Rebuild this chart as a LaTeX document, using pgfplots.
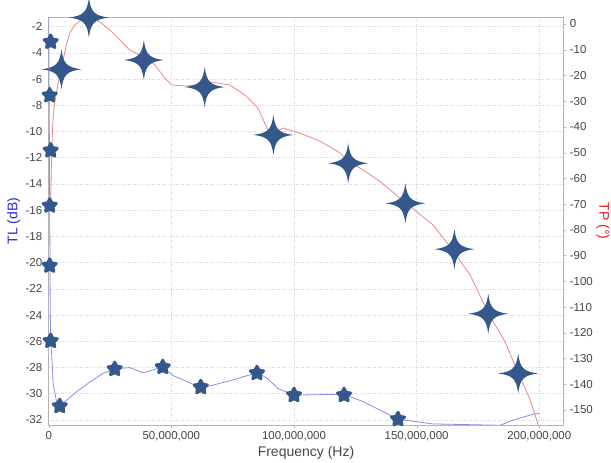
\documentclass[border=0pt]{standalone}
\usepackage{fontspec}
\setmainfont{Liberation Sans}
\usepackage{pgfplots}
\pgfplotsset{compat=1.18}
\definecolor{mk}{RGB}{52,88,140}
\definecolor{redl}{RGB}{234,135,135}
\definecolor{bluel}{RGB}{140,140,230}
\definecolor{tickc}{RGB}{70,70,70}
\definecolor{gridc}{RGB}{212,212,212}
\definecolor{axc}{RGB}{180,180,180}
\definecolor{labblue}{RGB}{40,40,225}
\definecolor{labred}{RGB}{230,30,30}

\pgfdeclareplotmark{spark}{%
  \pgfpathmoveto{\pgfpoint{0pt}{20pt}}%
  \pgfpathcurveto{\pgfpoint{1.8pt}{5.5pt}}{\pgfpoint{5.5pt}{1.8pt}}{\pgfpoint{20pt}{0pt}}%
  \pgfpathcurveto{\pgfpoint{5.5pt}{-1.8pt}}{\pgfpoint{1.8pt}{-5.5pt}}{\pgfpoint{0pt}{-20pt}}%
  \pgfpathcurveto{\pgfpoint{-1.8pt}{-5.5pt}}{\pgfpoint{-5.5pt}{-1.8pt}}{\pgfpoint{-20pt}{0pt}}%
  \pgfpathcurveto{\pgfpoint{-5.5pt}{1.8pt}}{\pgfpoint{-1.8pt}{5.5pt}}{\pgfpoint{0pt}{20pt}}%
  \pgfpathclose
  \pgfusepathqfill}

\pgfdeclareplotmark{flower}{%
  \pgfsetlinewidth{2.8pt}\pgfsetroundjoin
  \pgfpathmoveto{\pgfpointpolar{90}{7pt}}%
  \pgfpathlineto{\pgfpointpolar{126}{3.6pt}}%
  \pgfpathlineto{\pgfpointpolar{162}{7pt}}%
  \pgfpathlineto{\pgfpointpolar{198}{3.6pt}}%
  \pgfpathlineto{\pgfpointpolar{234}{7pt}}%
  \pgfpathlineto{\pgfpointpolar{270}{3.6pt}}%
  \pgfpathlineto{\pgfpointpolar{306}{7pt}}%
  \pgfpathlineto{\pgfpointpolar{342}{3.6pt}}%
  \pgfpathlineto{\pgfpointpolar{18}{7pt}}%
  \pgfpathlineto{\pgfpointpolar{54}{3.6pt}}%
  \pgfpathclose
  \pgfusepathqfillstroke}

\pgfplotstableread{
x y
0.8 -70
1.2 -50
1.7 -38
2.4 -30.7
3.7 -23.7
5.3 -16.7
6.9 -9.3
8.6 -3.5
10.6 -0.4
12.7 1.2
15.9 1.6
18.8 1.6
20.8 0.8
24.9 -2.3
29.0 -6.2
33.0 -10.1
38.4 -12.8
43.3 -15.9
47.3 -21.0
50.2 -23.7
55.5 -24.1
61.6 -23.7
65.7 -22.5
73.9 -23.7
80.0 -27.6
85.3 -32.6
89.4 -41.2
92.2 -42.4
95.5 -40.4
102.4 -42.4
110.6 -45.5
118.8 -50.1
122.0 -53.2
126.9 -56.0
134.3 -60.6
145.7 -69.6
156.7 -78.1
163.7 -86.7
171.8 -97.5
179.2 -112.3
186.1 -123.6
191.4 -135.6
196.3 -146.1
199.6 -155.8
}\tpline

\pgfplotstableread{
x y
5.2 -17.6
16.4 2.5
38.8 -14.0
63.6 -24.5
91.6 -43.1
122.1 -54.1
145.4 -69.7
165.4 -87.5
179.2 -112.6
191.4 -135.8
}\tpmarks

\pgfplotstableread{
x y
0 -1.25
0.2 -7.6
0.4 -15.3
0.6 -22.9
0.8 -26.0
1.2 -27.0
1.8 -29.2
3.2 -30.6
4.5 -30.94
6.6 -30.6
11.0 -29.9
16.8 -29.1
22.1 -28.44
26.9 -28.1
33.1 -28.0
38.4 -28.4
46.5 -27.96
50.6 -28.6
61.6 -29.5
65.7 -29.4
73.9 -29.0
84.9 -28.4
89.0 -28.8
93.5 -29.6
100.0 -30.1
114.7 -30.05
120.4 -30.05
128.2 -30.6
142.4 -31.94
156.7 -32.3
184.1 -32.4
189.4 -32.0
197.6 -31.55
200.0 -31.5
}\tlline

\pgfplotstableread{
x y
0.8 -3.16
0.4 -7.24
0.8 -11.44
0.4 -15.65
0.4 -20.23
0.8 -25.97
4.5 -30.94
26.9 -28.11
46.5 -27.96
62.0 -29.49
84.9 -28.42
100.0 -30.1
120.4 -30.1
142.4 -31.94
}\tlmarks

\begin{document}
\begin{tikzpicture}
\pgfplotsset{set layers}
% TP axis (right)
\begin{axis}[
  name=tp,
  scale only axis, width=514.6pt, height=408pt,
  xmin=0, xmax=209.8, ymin=-155.83, ymax=2.72,
  axis x line=none, axis y line*=right,
  axis line style={draw=axc},
  ytick={-150,-140,...,0},
  tick align=outside, major tick length=3pt,
  ytick style={draw=axc},
  yticklabel style={font=\fontsize{11.5}{13}\selectfont, color=tickc, /pgf/number format/assume math mode=true},
  ylabel={TP (°)},
  ylabel style={at={(axis description cs:1.077,0.5)}, anchor=center, rotate=180, color=labred, font=\fontsize{14}{16}\selectfont},
]
\addplot[redl, line width=0.8pt, line join=round] table[x=x,y=y] {\tpline};
\addplot[only marks, mark=spark, mark options={fill=mk}] table[x=x,y=y] {\tpmarks};
\end{axis}
% TL axis (left)
\begin{axis}[
  name=tl,
  scale only axis, width=514.6pt, height=408pt,
  xmin=0, xmax=209.8, ymin=-32.38, ymax=-1.26,
  axis line style={draw=axc},
  tick pos=left,
  xtick={0,50,100,150,200},
  xticklabels={0,{50,000,000},{100,000,000},{150,000,000},{200,000,000}},
  ytick={-32,-30,...,-2},
  ytick style={draw=none},
  xtick style={draw=axc},
  tick align=outside, major tick length=3pt,
  grid=major,
  grid style={draw=gridc, dotted, line width=0.7pt},
  ticklabel style={font=\fontsize{11.5}{13}\selectfont, color=tickc, /pgf/number format/assume math mode=true},
  xlabel={Frequency (Hz)},
  xlabel style={at={(axis description cs:0.5,-0.0686)}, anchor=center, color=tickc, font=\fontsize{14}{16}\selectfont},
  ylabel={TL (dB)},
  ylabel style={at={(axis description cs:-0.068,0.5)}, anchor=center, color=labblue, font=\fontsize{14}{16}\selectfont},
]
\addplot[bluel, line width=0.8pt, line join=round] table[x=x,y=y] {\tlline};
\addplot[only marks, mark=flower, mark options={fill=mk, draw=mk}] table[x=x,y=y] {\tlmarks};
\end{axis}
\pgfresetboundingbox
\useasboundingbox ([shift={(-48.7pt,-38pt)}]tl.south west) rectangle ([shift={(47.7pt,17pt)}]tl.north east);
\end{tikzpicture}
\end{document}
